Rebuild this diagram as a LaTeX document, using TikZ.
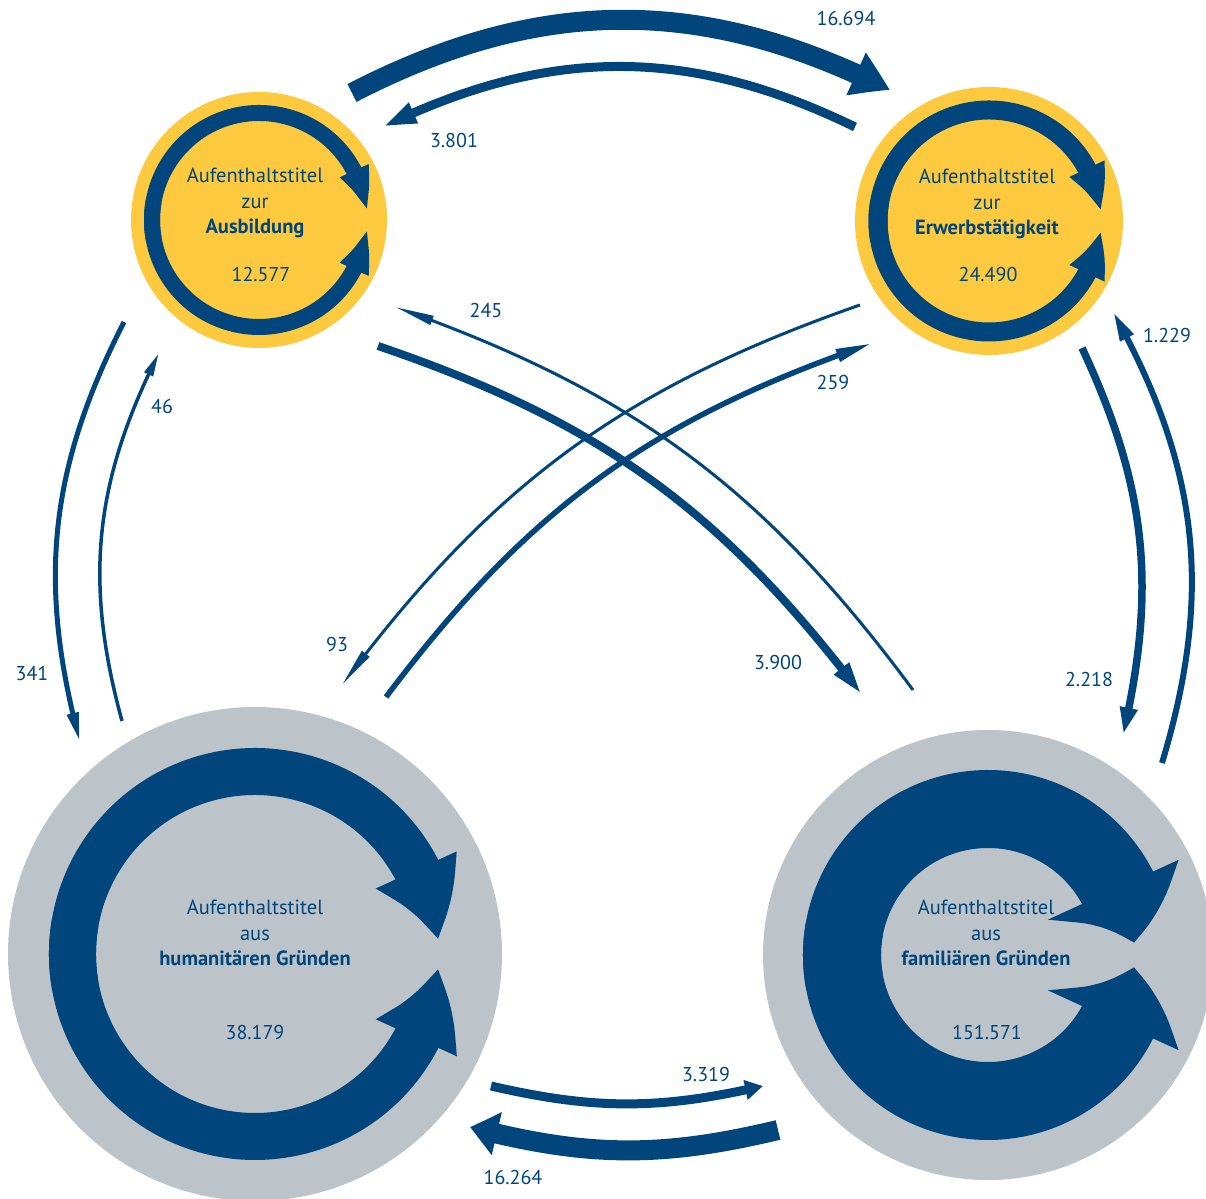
\documentclass[tikz,border=0pt]{standalone}
\usepackage{fontspec}
\setmainfont{PT Sans}
\usetikzlibrary{arrows.meta,bending}
\definecolor{flowblue}{HTML}{00457C}
\definecolor{titleyellow}{HTML}{FDC93F}
\definecolor{titlegrey}{HTML}{BCC4C9}

\begin{document}
\begin{tikzpicture}[x=1pt,y=1pt,
    flow/.style={draw=flowblue, line cap=butt},
    lbl/.style={text=flowblue, font=\fontsize{20}{24}\selectfont},
    ctext/.style={text=flowblue, align=center, font=\fontsize{20.5}{25.5}\selectfont}]
  \useasboundingbox (0,0) rectangle (1206,1198);

  % the four kinds of residence title
  \node[circle, fill=titleyellow, inner sep=0pt, minimum size=256pt] (ausb) at (259,978) {};
  \node[circle, fill=titleyellow, inner sep=0pt, minimum size=268pt] (erw) at (989,977) {};
  \node[circle, fill=titlegrey, inner sep=0pt, minimum size=494pt] (hum) at (255,244) {};
  \node[circle, fill=titlegrey, inner sep=0pt, minimum size=450pt] (fam) at (988,243) {};

  % staying in the same title
  \draw[flow, line width=16pt, -{Triangle[length=43pt,width=28pt,bend]}] (ausb.center) ++(190:107) arc[start angle=190, end angle=4.5, radius=107];
  \draw[flow, line width=16pt, -{Triangle[length=43pt,width=28pt,bend]}] (ausb.center) ++(170:107) arc[start angle=170, end angle=355.5, radius=107];

  \draw[flow, line width=19pt, -{Triangle[length=45pt,width=35pt,bend]}] (erw.center) ++(190:111) arc[start angle=190, end angle=5, radius=111];
  \draw[flow, line width=19pt, -{Triangle[length=45pt,width=35pt,bend]}] (erw.center) ++(170:111) arc[start angle=170, end angle=355, radius=111];

  \draw[flow, line width=47pt, -{Triangle[length=74pt,width=83pt,bend]}] (hum.center) ++(190:182.5) arc[start angle=190, end angle=4.4, radius=182.5];
  \draw[flow, line width=47pt, -{Triangle[length=74pt,width=83pt,bend]}] (hum.center) ++(170:182.5) arc[start angle=170, end angle=355.6, radius=182.5];

  \draw[flow, line width=78pt, -{Triangle[length=58pt,width=137pt,bend]}] (fam.center) ++(190:146) arc[start angle=190, end angle=4.8, radius=146];
  \draw[flow, line width=78pt, -{Triangle[length=58pt,width=137pt,bend]}] (fam.center) ++(170:146) arc[start angle=170, end angle=355.2, radius=146];

  % names and totals
  \node[ctext] (ausbtext) at (255,995) {Aufenthaltstitel\\zur\\\textbf{Ausbildung}};
  \node[lbl] (ausbnum) at (261,923) {12.577};
  \node[ctext] (erwtext) at (987,994) {Aufenthaltstitel\\zur\\\textbf{Erwerbstätigkeit}};
  \node[lbl] (erwnum) at (988,923) {24.490};
  \node[ctext] (humtext) at (255,265) {Aufenthaltstitel\\aus\\\textbf{humanitären Gründen}};
  \node[lbl] (humnum) at (255,165) {38.179};
  \node[ctext] (famtext) at (986,265) {Aufenthaltstitel\\aus\\\textbf{familiären Gründen}};
  \node[lbl] (famnum) at (987,165) {151.571};

  % ends of the changes between titles
  \coordinate (ae1) at (352,1105);  \coordinate (ae2) at (890,1108);
  \coordinate (ea1) at (855,1071);  \coordinate (ea2) at (383,1071);
  \coordinate (hf1) at (491,112);   \coordinate (hf2) at (763,112);
  \coordinate (fh1) at (778,68);    \coordinate (fh2) at (470,71);
  \coordinate (ah1) at (124,876);   \coordinate (ah2) at (80,456);
  \coordinate (ha1) at (122,477);   \coordinate (ha2) at (159,845);
  \coordinate (ef1) at (1082,850);  \coordinate (ef2) at (1123,463);
  \coordinate (fe1) at (1162,435);  \coordinate (fe2) at (1113,886);
  \coordinate (af1) at (378,852);   \coordinate (af2) at (862,503);
  \coordinate (fa1) at (913,508);   \coordinate (fa2) at (395,891);
  \coordinate (he1) at (386,501);   \coordinate (he2) at (873,855);
  \coordinate (eh1) at (860,893);   \coordinate (eh2) at (342,513);

  % changes between titles
  \draw[flow, line width=20pt, -{Triangle[length=38pt,width=44pt,bend]}] (ae1) to[bend left=27] (ae2);
  \draw[flow, line width=9pt, -{Triangle[length=34pt,width=20pt,bend]}] (ea1) to[bend right=26] (ea2);
  \draw[flow, line width=9pt, -{Triangle[length=18pt,width=19pt,bend]}] (hf1) to[bend right=13] (hf2);
  \draw[flow, line width=20pt, -{Triangle[length=28pt,width=42pt,bend]}] (fh1) to[bend left=14] (fh2);
  \draw[flow, line width=5pt, -{Triangle[length=30pt,width=11pt,bend]}] (ah1) to[bend right=21] (ah2);
  \draw[flow, line width=3.5pt, -{Triangle[length=24pt,width=9pt,bend]}] (ha1) to[bend left=21] (ha2);
  \draw[flow, line width=7.5pt, -{Triangle[length=28pt,width=16pt,bend]}] (ef1) to[bend left=19] (ef2);
  \draw[flow, line width=6pt, -{Triangle[length=30pt,width=14pt,bend]}] (fe1) to[bend right=23] (fe2);
  \draw[flow, line width=8pt, -{Triangle[length=34pt,width=17pt,bend]}] (af1) to[bend left=17] (af2);
  \draw[flow, line width=3pt, -{Triangle[length=40pt,width=9pt,bend]}] (fa1) to[bend right=17] (fa2);
  \draw[flow, line width=5.5pt, -{Triangle[length=38pt,width=12pt,bend]}] (he1) to[bend left=17] (he2);
  \draw[flow, line width=3pt, -{Triangle[length=40pt,width=9pt,bend]}] (eh1) to[bend right=17] (eh2);

  % numbers of changes
  \node[lbl] (n16694) at (846,1179) {16.694};
  \node[lbl] (n3801) at (454,1057) {3.801};
  \node[lbl] (n245) at (486,887) {245};
  \node[lbl] (n259) at (833,815) {259};
  \node[lbl] (n46) at (162,791) {46};
  \node[lbl] (n1229) at (1167,862) {1.229};
  \node[lbl] (n341) at (32,524) {341};
  \node[lbl] (n93) at (337,553) {93};
  \node[lbl] (n3900) at (778,535) {3.900};
  \node[lbl] (n2218) at (1089,518) {2.218};
  \node[lbl] (n3319) at (706,123) {3.319};
  \node[lbl] (n16264) at (513,20) {16.264};
\end{tikzpicture}
\end{document}
